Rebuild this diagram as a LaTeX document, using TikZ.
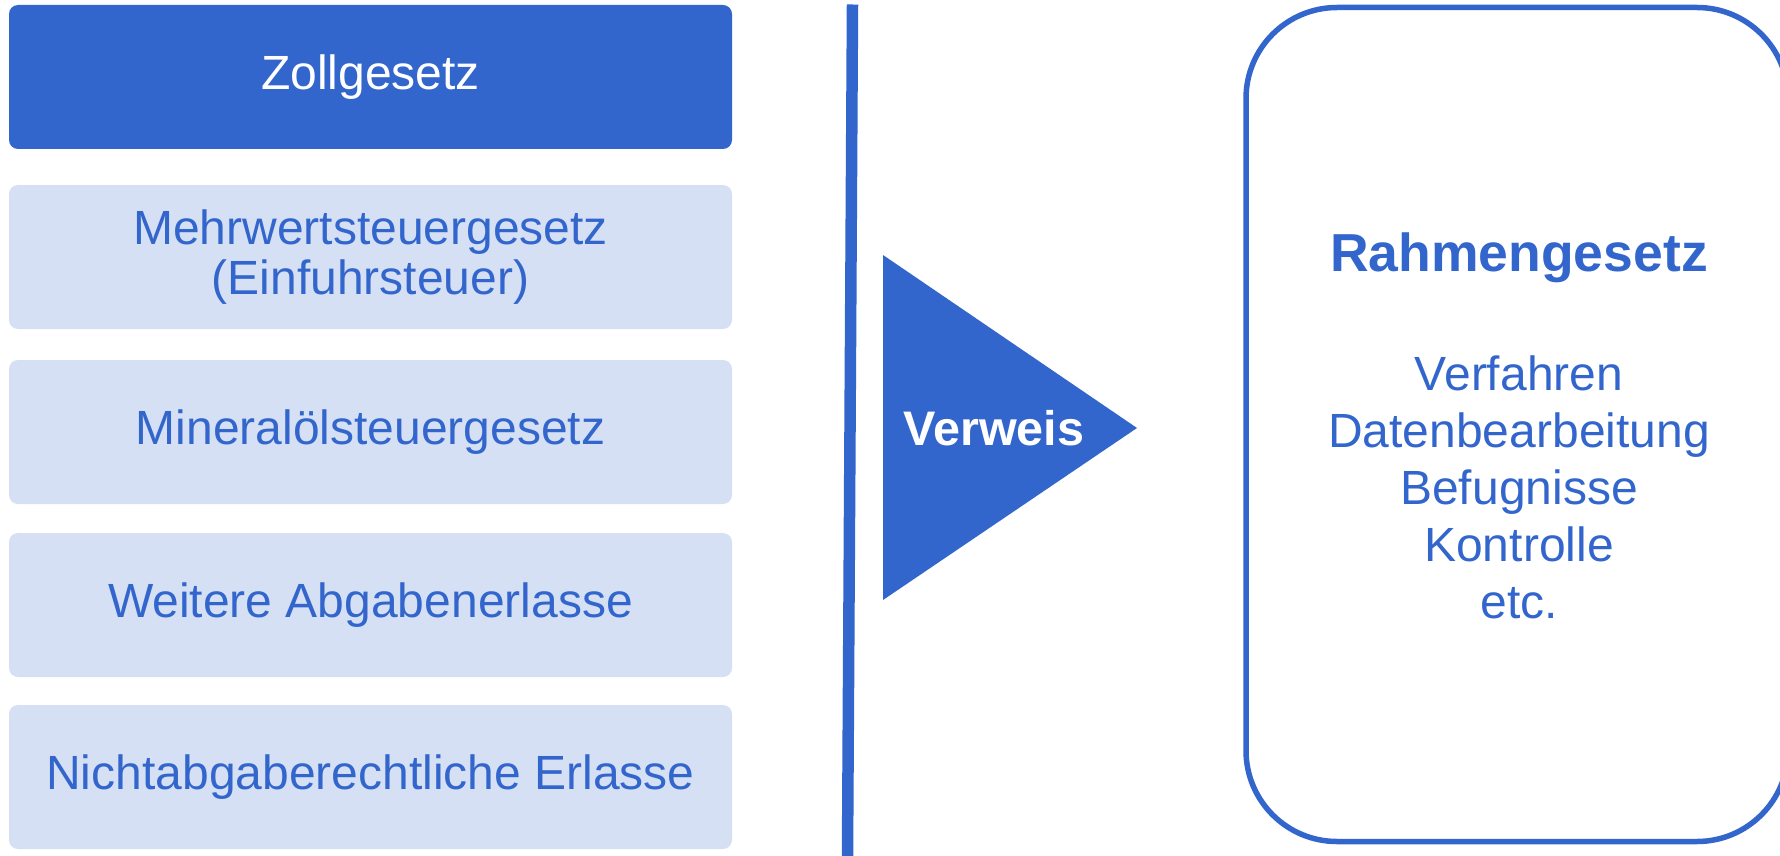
\documentclass[tikz,border=0pt]{standalone}
\usepackage{fontspec}
\setmainfont{Liberation Sans}
\definecolor{zollblau}{HTML}{3366CC}
\definecolor{zollhell}{HTML}{D6E0F5}

\begin{document}
\begin{tikzpicture}[x=1pt, y=-1pt,
        gesetz/.style={rounded corners=9pt, minimum width=723pt, minimum height=144pt,
            inner sep=0pt, align=center, font=\fontsize{48}{50}\selectfont},
        hell/.style={gesetz, fill=zollhell, text=zollblau},
        dunkel/.style={gesetz, fill=zollblau, text=white}]
        \useasboundingbox (0, 0) rectangle (1780, 856);
        % linke Spalte
        \node[dunkel] (zoll) at (370.5, 77) {Zollgesetz};
        \node[hell] (mwst) at (370.5, 257) {Mehrwertsteuergesetz\\(Einfuhrsteuer)};
        \node[hell] (oel) at (370.5, 432) {Mineralölsteuergesetz};
        \node[hell] (abgaben) at (370.5, 605) {Weitere Abgabenerlasse};
        \node[hell] (nicht) at (370.5, 777) {Nichtabgaberechtliche Erlasse};
        % Trennlinie
        \coordinate (oben) at (852.5, 4.5);
        \coordinate (unten) at (847.5, 856);
        \draw[zollblau, line width=11.5pt] (oben) -- (unten);
        % Verweis
        \coordinate (a) at (883, 255);
        \coordinate (b) at (1137, 428);
        \coordinate (c) at (883, 600);
        \fill[zollblau] (a) -- (b) -- (c) -- cycle;
        \node[text=white, font=\bfseries\fontsize{48.5}{52}\selectfont] (verweis) at (994, 428) {Verweis};
        % Rahmengesetz
        \draw[zollblau, line width=5.5pt, rounded corners=91pt] (1246, 7.5) rectangle (1788, 841.5);
        \node[text=zollblau, font=\bfseries\fontsize{53.5}{57}\selectfont] (rahmen) at (1519, 258) {Rahmengesetz};
        \node[text=zollblau, align=center, font=\fontsize{48}{57}\selectfont] (inhalt) at (1519, 487.5)
            {Verfahren\\Datenbearbeitung\\Befugnisse\\Kontrolle\\etc.};
    \end{tikzpicture}
\end{document}
